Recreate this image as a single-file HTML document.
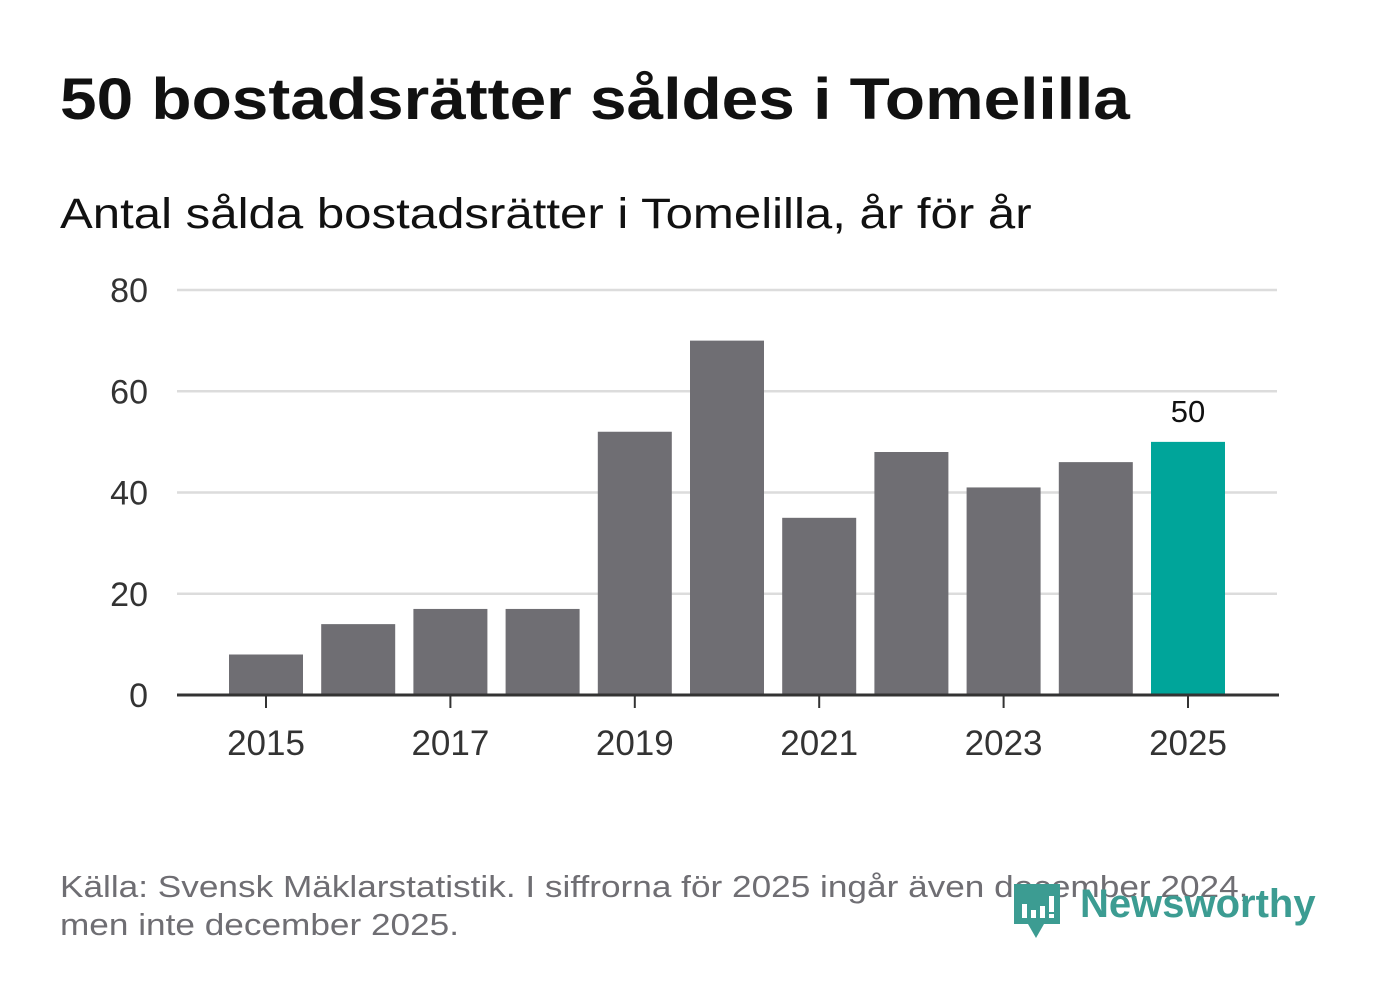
<!DOCTYPE html>
<html><head><meta charset="utf-8"><style>
body{margin:0;width:1382px;height:999px;background:#fff;font-family:"Liberation Sans","DejaVu Sans",sans-serif;position:relative;overflow:hidden}
.t{position:absolute;white-space:nowrap}
.s{transform-origin:0 0}
</style></head><body>
<div class="t s" style="left:60px;top:66px;font-size:58px;font-weight:bold;color:#111;transform:scaleX(1.134)">50 bostadsrätter såldes i Tomelilla</div>
<div class="t s" style="left:60px;top:190px;font-size:43px;color:#111;transform:scaleX(1.143)">Antal sålda bostadsrätter i Tomelilla, år för år</div>
<svg id="c" width="1382" height="999" style="position:absolute;left:0;top:0"></svg>
<div class="t s" style="left:60px;top:868px;font-size:31px;color:#6f6e73;line-height:38px;transform:scaleX(1.135)">Källa: Svensk Mäklarstatistik. I siffrorna för 2025 ingår även december 2024,<br>men inte december 2025.</div>
<div style="position:absolute;left:1012px;top:882px">
<svg width="50" height="58"><path d="M2 2h46v40H32l-8 14-8-14H2z" fill="#3c9c92"/><rect x="10" y="22" width="5" height="14" fill="#fff"/><rect x="19" y="28" width="5" height="8" fill="#fff"/><rect x="28" y="24" width="5" height="12" fill="#fff"/><rect x="37" y="14" width="5" height="16" fill="#fff"/><rect x="37" y="32" width="5" height="4" fill="#fff"/></svg>
<div class="t" style="left:68px;top:0px;font-size:40px;font-weight:bold;color:#3c9c92">Newsworthy</div>
</div>
<script>
const years=[2015,2016,2017,2018,2019,2020,2021,2022,2023,2024,2025];
const values=[8,14,17,17,52,70,35,48,41,46,50];
const yTicks=[0,20,40,60,80];
const xLabels=[2015,2017,2019,2021,2023,2025];
const svg=document.getElementById('c');const NS='http://www.w3.org/2000/svg';
const y=v=>695-v*(405/80);
const x=yr=>266+(yr-2015)*92.2;
function mk(t,a){const e=document.createElementNS(NS,t);for(const k in a)e.setAttribute(k,a[k]);svg.appendChild(e);return e;}
yTicks.forEach(v=>{
 if(v>0){const g=mk('line',{x1:177,x2:1277,y1:y(v),y2:y(v),stroke:'#dcdcdc','stroke-width':2.5});
 
 }
 const t=mk('text',{x:148,y:y(v)+12,'text-anchor':'end','font-size':34,fill:'#333','font-family':'Liberation Sans, sans-serif'});t.textContent=v;
 
 
});
years.forEach((yr,i)=>{
 const r=mk('rect',{x:x(yr)-37,y:y(values[i]),width:74,height:695-y(values[i]),fill:yr===2025?'#00a59a':'#6f6e73'});
 
 
});
const li=years.length-1;
const lb=mk('text',{x:x(years[li]),y:y(values[li])-20,'text-anchor':'middle','font-size':31,fill:'#111','font-family':'Liberation Sans, sans-serif'});lb.textContent=values[li];


const ax=mk('line',{x1:177,x2:1279,y1:695,y2:695,stroke:'#333','stroke-width':3});


xLabels.forEach(yr=>{
 const tk=mk('line',{x1:x(yr),x2:x(yr),y1:695,y2:708,stroke:'#333','stroke-width':2});
 
 
 const t=mk('text',{x:x(yr),y:755,'text-anchor':'middle','font-size':35,fill:'#333','font-family':'Liberation Sans, sans-serif'});t.textContent=yr;
 
 
});
</script>
</body></html>
